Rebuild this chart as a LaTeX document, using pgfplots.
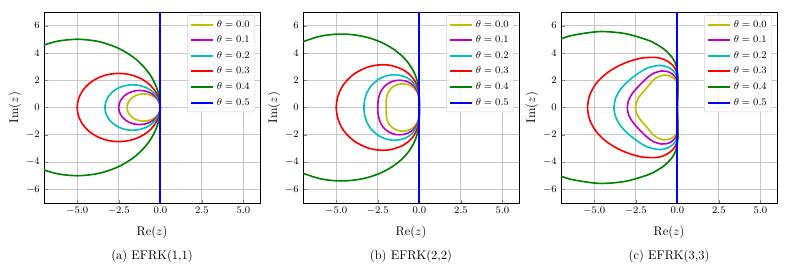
\documentclass[border=0pt]{standalone}
\usepackage{pgfplots}
\pgfplotsset{compat=1.18}
\definecolor{cY}{RGB}{191,191,0}
\definecolor{cM}{RGB}{191,0,191}
\definecolor{cC}{RGB}{0,191,191}
\definecolor{cR}{RGB}{255,0,0}
\definecolor{cG}{RGB}{0,128,0}
\definecolor{cB}{RGB}{0,0,255}
\pgfplotsset{panel/.style={
  scale only axis, width=172.8pt, height=152.8pt,
  xmin=-7, xmax=6, ymin=-7, ymax=7,
  xtick={-5,-2.5,0,2.5,5}, ytick={-6,-4,-2,0,2,4,6},
  xticklabel style={/pgf/number format/fixed,/pgf/number format/fixed zerofill,/pgf/number format/precision=1},
  tick label style={font=\footnotesize},
  tick align=inside, tick pos=left, major tick length=2.8pt,
  grid=major, grid style={color=black!22, line width=0.6pt},
  axis line style={line width=0.7pt},
  xlabel={$\mathrm{Re}(z)$}, ylabel={$\mathrm{Im}(z)$},
  xlabel style={yshift=-2pt}, ylabel style={yshift=-3pt},
  every axis plot/.append style={line width=1.3pt, smooth, mark=none},
  legend style={at={(0.977,0.984)}, anchor=north east, font=\footnotesize, draw=black!18, rounded corners=2pt, fill=white, fill opacity=0.8, text opacity=1, inner sep=2pt, row sep=1.4pt},
  legend cell align=left,
  legend image code/.code={\draw[#1, line width=1.6pt] (0pt,0pt) -- (18pt,0pt);},
  anchor=south west,
}}
\begin{document}
\begin{tikzpicture}
\useasboundingbox (0,0) rectangle (631.2pt,216.8pt);
% ---------------- (a)
\begin{axis}[panel, at={(35.2pt,54.4pt)}]
\addplot[cY] coordinates {(0,0) (-0.0341,0.2588) (-0.134,0.5) (-0.2929,0.7071) (-0.5,0.866) (-0.7412,0.9659) (-1,1) (-1.2588,0.9659) (-1.5,0.866) (-1.7071,0.7071) (-1.866,0.5) (-1.9659,0.2588) (-2,0) (-1.9659,-0.2588) (-1.866,-0.5) (-1.7071,-0.7071) (-1.5,-0.866) (-1.2588,-0.9659) (-1,-1) (-0.7412,-0.9659) (-0.5,-0.866) (-0.2929,-0.7071) (-0.134,-0.5) (-0.0341,-0.2588) (0,0)};
\addlegendentry{$\theta=0.0$}
\addplot[cM] coordinates {(0,0) (-0.0426,0.3235) (-0.1675,0.625) (-0.3661,0.8839) (-0.625,1.0825) (-0.9265,1.2074) (-1.25,1.25) (-1.5735,1.2074) (-1.875,1.0825) (-2.1339,0.8839) (-2.3325,0.625) (-2.4574,0.3235) (-2.5,0) (-2.4574,-0.3235) (-2.3325,-0.625) (-2.1339,-0.8839) (-1.875,-1.0825) (-1.5735,-1.2074) (-1.25,-1.25) (-0.9265,-1.2074) (-0.625,-1.0825) (-0.3661,-0.8839) (-0.1675,-0.625) (-0.0426,-0.3235) (0,0)};
\addlegendentry{$\theta=0.1$}
\addplot[cC] coordinates {(0,0) (-0.0569,0.4313) (-0.2233,0.8333) (-0.4882,1.1785) (-0.8333,1.4434) (-1.2353,1.6098) (-1.6667,1.6667) (-2.098,1.6098) (-2.5,1.4434) (-2.8452,1.1785) (-3.11,0.8333) (-3.2765,0.4313) (-3.3333,0) (-3.2765,-0.4313) (-3.11,-0.8333) (-2.8452,-1.1785) (-2.5,-1.4434) (-2.098,-1.6098) (-1.6667,-1.6667) (-1.2353,-1.6098) (-0.8333,-1.4434) (-0.4882,-1.1785) (-0.2233,-0.8333) (-0.0569,-0.4313) (0,0)};
\addlegendentry{$\theta=0.2$}
\addplot[cR] coordinates {(0,0) (-0.0853,0.647) (-0.335,1.25) (-0.7322,1.7678) (-1.25,2.1651) (-1.853,2.4148) (-2.5,2.5) (-3.147,2.4148) (-3.75,2.1651) (-4.2678,1.7678) (-4.665,1.25) (-4.9148,0.647) (-5,0) (-4.9148,-0.647) (-4.665,-1.25) (-4.2678,-1.7678) (-3.75,-2.1651) (-3.147,-2.4148) (-2.5,-2.5) (-1.853,-2.4148) (-1.25,-2.1651) (-0.7322,-1.7678) (-0.335,-1.25) (-0.0853,-0.647) (0,0)};
\addlegendentry{$\theta=0.3$}
\addplot[cG] coordinates {(0,0) (-0.1704,1.2941) (-0.6699,2.5) (-1.4645,3.5355) (-2.5,4.3301) (-3.7059,4.8296) (-5,5) (-6.2941,4.8296) (-7.5,4.3301) (-8.5355,3.5355) (-9.3301,2.5) (-9.8296,1.2941) (-10,0) (-9.8296,-1.2941) (-9.3301,-2.5) (-8.5355,-3.5355) (-7.5,-4.3301) (-6.2941,-4.8296) (-5,-5) (-3.7059,-4.8296) (-2.5,-4.3301) (-1.4645,-3.5355) (-0.6699,-2.5) (-0.1704,-1.2941) (0,0)};
\addlegendentry{$\theta=0.4$}
\addplot[cB, line width=1.5pt] coordinates {(0,-7) (0,7)};
\addlegendentry{$\theta=0.5$}
\end{axis}
\node at (121.6pt,12pt) {(a) EFRK(1,1)};
% ---------------- (b)
\begin{axis}[panel, at={(242.4pt,54.4pt)}]
\addplot[cY] coordinates {(0,0) (-0.001,0.3) (-0.014,0.6) (-0.062,0.9) (-0.126,1.1) (-0.232,1.3) (-0.352,1.45) (-0.465,1.55) (-0.631,1.65) (-0.766,1.7) (-0.856,1.72) (-1,1.732) (-1.144,1.72) (-1.234,1.7) (-1.369,1.65) (-1.535,1.55) (-1.648,1.45) (-1.768,1.3) (-1.874,1.1) (-1.939,0.9) (-1.986,0.6) (-1.999,0.3) (-2,0) (-1.999,-0.3) (-1.986,-0.6) (-1.939,-0.9) (-1.874,-1.1) (-1.768,-1.3) (-1.648,-1.45) (-1.535,-1.55) (-1.369,-1.65) (-1.234,-1.7) (-1.144,-1.72) (-1,-1.732) (-0.856,-1.72) (-0.766,-1.7) (-0.631,-1.65) (-0.465,-1.55) (-0.352,-1.45) (-0.232,-1.3) (-0.126,-1.1) (-0.062,-0.9) (-0.014,-0.6) (-0.001,-0.3) (0,0)};
\addlegendentry{$\theta=0.0$}
\addplot[cM] coordinates {(0,0) (-0.005,0.5) (-0.062,0.998) (-0.257,1.478) (-0.478,1.735) (-0.687,1.878) (-0.962,1.979) (-1.340,1.991) (-1.602,1.920) (-1.775,1.831) (-1.913,1.731) (-2.056,1.592) (-2.174,1.437) (-2.279,1.252) (-2.374,1.011) (-2.442,0.735) (-2.482,0.437) (-2.5,0) (-2.482,-0.437) (-2.442,-0.735) (-2.374,-1.011) (-2.279,-1.252) (-2.174,-1.437) (-2.056,-1.592) (-1.913,-1.731) (-1.775,-1.831) (-1.602,-1.920) (-1.340,-1.991) (-0.962,-1.979) (-0.687,-1.878) (-0.478,-1.735) (-0.257,-1.478) (-0.062,-0.998) (-0.005,-0.5) (0,0)};
\addlegendentry{$\theta=0.1$}
\addplot[cC] coordinates {(0,0) (-0.003,0.5) (-0.041,0.999) (-0.174,1.490) (-0.463,1.946) (-0.739,2.178) (-1.116,2.348) (-1.636,2.395) (-2.109,2.272) (-2.418,2.096) (-2.855,1.654) (-2.995,1.432) (-3.148,1.097) (-3.245,0.776) (-3.301,0.474) (-3.333,0) (-3.301,-0.474) (-3.245,-0.776) (-3.148,-1.097) (-2.995,-1.432) (-2.855,-1.654) (-2.418,-2.096) (-2.109,-2.272) (-1.636,-2.395) (-1.116,-2.348) (-0.739,-2.178) (-0.463,-1.946) (-0.174,-1.490) (-0.041,-0.999) (-0.003,-0.5) (0,0)};
\addlegendentry{$\theta=0.2$}
\addplot[cR] coordinates {(0,0) (-0.002,0.5) (-0.025,1.0) (-0.107,1.496) (-0.285,1.980) (-0.590,2.429) (-1.046,2.812) (-1.677,3.072) (-2.067,3.129) (-2.512,3.113) (-3.128,2.950) (-3.846,2.524) (-4.391,1.939) (-4.687,1.431) (-4.904,0.807) (-5,0) (-4.904,-0.807) (-4.687,-1.431) (-4.391,-1.939) (-3.846,-2.524) (-3.128,-2.950) (-2.512,-3.113) (-2.067,-3.129) (-1.677,-3.072) (-1.046,-2.812) (-0.590,-2.429) (-0.285,-1.980) (-0.107,-1.496) (-0.025,-1.0) (-0.002,-0.5) (0,0)};
\addlegendentry{$\theta=0.3$}
\addplot[cG] coordinates {(-7.168,4.752) (-6.091,5.186) (-5.258,5.349) (-4.482,5.377) (-3.766,5.298) (-3.110,5.131) (-2.514,4.892) (-1.980,4.591) (-1.509,4.240) (-1.102,3.845) (-0.761,3.416) (-0.487,2.960) (-0.279,2.484) (-0.136,1.995) (-0.050,1.499) (-0.011,1.0) (-0.001,0.5) (0,0) (-0.001,-0.5) (-0.011,-1.0) (-0.050,-1.499) (-0.136,-1.995) (-0.279,-2.484) (-0.487,-2.960) (-0.761,-3.416) (-1.102,-3.845) (-1.509,-4.240) (-1.980,-4.591) (-2.514,-4.892) (-3.110,-5.131) (-3.766,-5.298) (-4.482,-5.377) (-5.258,-5.349) (-6.091,-5.186) (-7.168,-4.752)};
\addlegendentry{$\theta=0.4$}
\addplot[cB, line width=1.5pt] coordinates {(0,-7) (0,7)};
\addlegendentry{$\theta=0.5$}
\end{axis}
\node at (328.8pt,12pt) {(b) EFRK(2,2)};
% ---------------- (c)
\begin{axis}[panel, at={(448.8pt,54.4pt)}]
\addplot[cY] coordinates {(0,0) (0.005,0.6) (0.026,1.0) (0.042,1.3) (0.037,1.5) (0,1.732) (-0.067,1.922) (-0.184,2.108) (-0.403,2.288) (-0.634,2.366) (-0.861,2.365) (-1.26,2.182) (-1.559,1.857) (-1.794,1.505) (-2.030,1.172) (-2.265,0.824) (-2.445,0.431) (-2.513,0) (-2.445,-0.431) (-2.265,-0.824) (-2.030,-1.172) (-1.794,-1.505) (-1.559,-1.857) (-1.26,-2.182) (-0.861,-2.365) (-0.634,-2.366) (-0.403,-2.288) (-0.184,-2.108) (-0.067,-1.922) (0,-1.732) (0.037,-1.5) (0.042,-1.3) (0.026,-1.0) (0.005,-0.6) (0,0)};
\addlegendentry{$\theta=0.0$}
\addplot[cM] coordinates {(0,0) (0.009,0.8) (0.031,1.2) (0.042,1.6) (0,1.924) (-0.075,2.147) (-0.206,2.360) (-0.453,2.569) (-0.714,2.665) (-0.973,2.674) (-1.444,2.500) (-1.822,2.172) (-2.140,1.796) (-2.444,1.411) (-2.727,0.993) (-2.933,0.517) (-3.009,0) (-2.933,-0.517) (-2.727,-0.993) (-2.444,-1.411) (-2.140,-1.796) (-1.822,-2.172) (-1.444,-2.500) (-0.973,-2.674) (-0.714,-2.665) (-0.453,-2.569) (-0.206,-2.360) (-0.075,-2.147) (0,-1.924) (0.042,-1.6) (0.031,-1.2) (0.009,-0.8) (0,0)};
\addlegendentry{$\theta=0.1$}
\addplot[cC] coordinates {(0,0) (0.029,1.3) (0.042,1.8) (0,2.161) (-0.085,2.426) (-0.234,2.678) (-0.516,2.928) (-0.818,3.051) (-1.121,3.080) (-1.697,2.938) (-2.202,2.625) (-2.659,2.231) (-3.087,1.782) (-3.460,1.259) (-3.719,0.656) (-3.812,0) (-3.719,-0.656) (-3.460,-1.259) (-3.087,-1.782) (-2.659,-2.231) (-2.202,-2.625) (-1.697,-2.938) (-1.121,-3.080) (-0.818,-3.051) (-0.516,-2.928) (-0.234,-2.678) (-0.085,-2.426) (0,-2.161) (0.042,-1.8) (0.029,-1.3) (0,0)};
\addlegendentry{$\theta=0.2$}
\addplot[cR] coordinates {(0,0) (0.024,1.4) (0.041,2.0) (0,2.440) (-0.097,2.774) (-0.270,3.086) (-0.600,3.405) (-0.961,3.588) (-1.337,3.672) (-2.097,3.633) (-2.852,3.398) (-3.593,3.015) (-4.290,2.477) (-4.875,1.774) (-5.265,0.928) (-5.402,0) (-5.265,-0.928) (-4.875,-1.774) (-4.290,-2.477) (-3.593,-3.015) (-2.852,-3.398) (-2.097,-3.633) (-1.337,-3.672) (-0.961,-3.588) (-0.600,-3.405) (-0.270,-3.086) (-0.097,-2.774) (0,-2.440) (0.041,-2.0) (0.024,-1.4) (0,0)};
\addlegendentry{$\theta=0.3$}
\addplot[cG] coordinates {(-7.847,4.531) (-7.105,4.975) (-6.305,5.290) (-4.669,5.565) (-3.125,5.412) (-1.801,4.949) (-1.239,4.624) (-0.744,4.220) (-0.322,3.683) (-0.112,3.220) (0,2.708) (0.029,2.2) (0.015,1.5) (0,0) (0.015,-1.5) (0.029,-2.2) (0,-2.708) (-0.112,-3.220) (-0.322,-3.683) (-0.744,-4.220) (-1.239,-4.624) (-1.801,-4.949) (-3.125,-5.412) (-4.669,-5.565) (-6.305,-5.290) (-7.105,-4.975) (-7.847,-4.531)};
\addlegendentry{$\theta=0.4$}
\addplot[cB, line width=1.5pt] coordinates {(0,-7) (0,7)};
\addlegendentry{$\theta=0.5$}
\end{axis}
\node at (535.2pt,12pt) {(c) EFRK(3,3)};
\end{tikzpicture}
\end{document}
